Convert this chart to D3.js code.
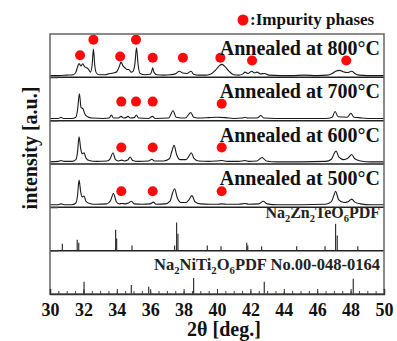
<!DOCTYPE html>
<html>
<head>
<meta charset="utf-8">
<script src="https://cdn.jsdelivr.net/npm/d3@7"></script>
<style>
  body { margin: 0; background: #fff; }
  text { font-family: "Liberation Serif", "Times New Roman", serif; font-weight: bold; }
</style>
</head>
<body>
<div id="chart"></div>
<script>
// XRD patterns, intensity in arbitrary units (0-100 per panel)
const s800 = [[30,4],[30.5,4],[31,5],[31.4,6],[31.55,12],[31.65,24],[31.74,32],[31.85,26],[31.96,31],[32.08,24],[32.2,22],[32.32,18],[32.42,12],[32.52,28],[32.6,65],[32.68,28],[32.78,10],[32.95,6],[33.3,6],[33.5,8],[33.8,10],[34.0,13],[34.15,25],[34.25,35],[34.38,26],[34.5,22],[34.6,18],[34.72,18],[34.85,12],[34.95,13],[35.08,30],[35.18,68],[35.28,28],[35.4,9],[35.7,6],[36.0,7],[36.1,15],[36.15,22],[36.22,12],[36.4,6],[36.8,5],[37.2,6],[37.5,8],[37.75,14],[37.95,10],[38.2,9],[38.45,14],[38.6,7],[38.9,5],[39.3,5],[39.6,7],[39.9,16],[40.15,27],[40.3,30],[40.5,24],[40.75,13],[41.0,6],[41.3,5],[41.55,8],[41.68,12],[41.85,9],[42.08,14],[42.25,10],[42.4,12],[42.6,8],[42.85,9],[43.1,5],[43.8,4],[44.5,4],[45.2,5],[46,4],[46.6,5],[46.9,9],[47.1,14],[47.35,16],[47.55,13],[47.8,11],[48.07,14],[48.25,9],[48.5,5],[49,4],[50,4]];
const s700 = [[30,5],[30.5,5],[30.66,8],[30.8,5],[31.3,5],[31.55,8],[31.65,25],[31.76,62],[31.86,30],[31.97,28],[32.08,16],[32.25,9],[32.5,6],[33.2,5],[33.55,6],[33.67,13],[33.8,6],[34.1,6],[34.25,10],[34.4,6],[34.55,7],[34.67,10],[34.8,6],[35.05,7],[35.17,13],[35.3,6],[35.9,5],[36.13,10],[36.3,5],[37.1,6],[37.37,23],[37.55,8],[38.1,6],[38.43,19],[38.6,8],[39.0,6],[39.5,7],[40.0,8],[40.5,7],[41.0,5],[41.5,6],[41.68,8],[41.85,6],[42.4,6],[42.63,12],[42.8,6],[43.5,5],[45,5],[46.5,5],[46.9,8],[47.07,21],[47.25,9],[47.8,8],[48.02,17],[48.2,8],[48.5,7],[49,5],[50,5]];
const s600 = [[30,5],[30.5,6],[30.66,8],[30.85,6],[31.3,6],[31.55,10],[31.65,28],[31.74,63],[31.84,35],[31.92,24],[32.04,26],[32.15,14],[32.35,8],[32.8,6],[33.4,7],[33.6,12],[33.77,26],[33.92,10],[34.1,7],[34.3,9],[34.45,7],[34.65,9],[34.8,16],[34.95,8],[35.3,6],[35.9,7],[36.1,11],[36.25,7],[36.8,7],[37.15,12],[37.3,30],[37.43,43],[37.58,22],[37.8,10],[38.15,10],[38.3,17],[38.46,26],[38.62,13],[38.9,7],[39.5,6],[40.0,7],[40.3,8],[40.6,6],[41.3,6],[41.68,8],[41.9,6],[42.4,7],[42.7,15],[42.95,7],[43.6,5],[45,5],[46.5,6],[46.85,11],[47.0,23],[47.13,30],[47.3,16],[47.6,10],[47.85,14],[48.07,22],[48.25,12],[48.6,7],[49.2,5],[50,5]];
const s500 = [[30,6],[30.5,6],[30.66,8],[30.85,6],[31.3,6],[31.55,10],[31.65,28],[31.74,63],[31.84,35],[31.92,24],[32.04,26],[32.15,14],[32.35,9],[32.8,7],[33.4,8],[33.62,15],[33.8,32],[33.97,13],[34.15,8],[34.3,9],[34.5,8],[34.7,10],[34.87,14],[35.05,8],[35.5,7],[36.0,8],[36.19,12],[36.35,7],[36.9,8],[37.2,15],[37.33,32],[37.46,43],[37.62,22],[37.85,11],[38.15,11],[38.33,18],[38.5,27],[38.68,13],[39.0,8],[39.6,7],[40.0,7],[40.3,8],[40.6,7],[41.3,7],[41.68,9],[41.9,7],[42.5,8],[42.77,14],[43.0,8],[43.6,6],[45,6],[46.5,7],[46.85,13],[47.0,28],[47.1,37],[47.28,18],[47.6,11],[47.85,13],[48.07,19],[48.25,12],[48.6,8],[49.2,6],[50,6]];

// impurity markers [2theta, height]
const dots800 = [[31.8,51],[32.6,87],[34.2,48],[35.15,87],[36.15,45],[37.96,45],[40.2,45],[42.1,39],[47.74,39]];
const dots700 = [[34.27,44],[35.15,44],[36.15,44],[40.28,39]];
const dots600 = [[34.27,38],[36.15,38],[40.28,38]];
const dots500 = [[34.27,37],[36.15,37],[40.28,37]];

// reference sticks [2theta, height]
const pdfZnTe = [[30.74,16],[31.63,25],[31.72,18],[33.93,48],[33.99,28],[34.91,12],[37.46,12],[37.58,65],[37.66,39],[39.42,12],[40.24,10],[41.78,18],[41.84,12],[42.67,10],[44.77,10],[46.47,10],[47.1,62],[47.2,35],[48.43,10]];
const pdfNiTi = [[32.04,28],[34.87,21],[35.91,17],[38.6,37],[42.83,28],[48.16,35]];

const panelLabels = ["Annealed at 800°C", "Annealed at 700°C", "Annealed at 600°C", "Annealed at 500°C"];
const xTicks = [30, 32, 34, 36, 38, 40, 42, 44, 46, 48, 50];

const W = 397, H = 341;
const mLeft = 50, mRight = 384, mTop = 34, mBottom = 294;
const nPanels = 6;

const svg = d3.select("#chart").append("svg")
  .attr("width", W).attr("height", H);

const x = d3.scaleLinear().domain([30, 50]).range([mLeft, mRight]);
const yStack = d3.scaleLinear().domain([0, nPanels]).range([mBottom, mTop]);

// panel i counted from the top (0 = 800C)
function panelY(i) {
  return d3.scaleLinear().domain([0, 100])
    .range([yStack(nPanels - 1 - i), yStack(nPanels - i)]);
}

const line = d3.line().curve(d3.curveMonotoneX);

// spectra
[s800, s700, s600, s500].forEach((s, i) => {
  const y = panelY(i);
  svg.append("path")
    .attr("d", line.x(d => x(d[0])).y(d => y(d[1]))(s))
    .attr("fill", "none")
    .attr("stroke", "#1a1a1a")
    .attr("stroke-width", 1.1)
    .attr("stroke-linejoin", "round");
});

// impurity dots
[dots800, dots700, dots600, dots500].forEach((dots, i) => {
  const y = panelY(i);
  svg.selectAll(null).data(dots).enter()
    .append("circle")
    .attr("cx", d => x(d[0]))
    .attr("cy", d => y(d[1]))
    .attr("r", 5)
    .attr("fill", "#ff0a0a");
});

// reference sticks
[pdfZnTe, pdfNiTi].forEach((sticks, k) => {
  const y = panelY(4 + k);
  svg.selectAll(null).data(sticks).enter()
    .append("line")
    .attr("x1", d => x(d[0])).attr("x2", d => x(d[0]))
    .attr("y1", y(0)).attr("y2", d => y(d[1]))
    .attr("stroke", "#333")
    .attr("stroke-width", 1.2);
});

// panel separators
svg.selectAll(null).data(d3.range(1, nPanels)).enter()
  .append("line")
  .attr("x1", mLeft).attr("x2", mRight)
  .attr("y1", d => yStack(d)).attr("y2", d => yStack(d))
  .attr("stroke", "#222")
  .attr("stroke-width", 1.5);

// frame
svg.append("rect")
  .attr("x", mLeft).attr("y", mTop)
  .attr("width", mRight - mLeft).attr("height", mBottom - mTop)
  .attr("fill", "none")
  .attr("stroke", "#666")
  .attr("stroke-width", 1.5);

// left ticks (panel boundaries)
svg.append("g")
  .attr("transform", "translate(" + mLeft + ",0)")
  .call(d3.axisLeft(yStack).tickValues(d3.range(0, nPanels)).tickSize(-8).tickFormat(""))
  .call(g => g.select(".domain").remove())
  .call(g => g.selectAll("text").remove())
  .selectAll("line").attr("stroke", "#555");

// bottom axis: minor + major ticks
svg.append("g")
  .attr("transform", "translate(0," + mBottom + ")")
  .call(d3.axisBottom(x).tickValues(d3.range(30, 50.01, 0.5)).tickSize(-3).tickFormat(""))
  .call(g => g.select(".domain").remove())
  .call(g => g.selectAll("text").remove())
  .selectAll("line").attr("stroke", "#444");

const xAxis = svg.append("g")
  .attr("transform", "translate(0," + mBottom + ")")
  .call(d3.axisBottom(x).tickValues(xTicks).tickSize(-5).tickPadding(9).tickFormat(d3.format("d")));
xAxis.select(".domain").attr("stroke", "#333").attr("stroke-width", 1.5);
xAxis.selectAll("line").attr("stroke", "#333");
xAxis.selectAll("text")
  .attr("font-family", "'Liberation Serif', serif")
  .attr("font-weight", "bold")
  .attr("font-size", 18)
  .attr("fill", "#111");

// axis titles
svg.append("text")
  .attr("x", 224).attr("y", 336)
  .attr("text-anchor", "middle")
  .attr("font-size", 20)
  .attr("fill", "#111")
  .text("2θ [deg.]");

svg.append("text")
  .attr("transform", "translate(37,148) rotate(-90)")
  .attr("text-anchor", "middle")
  .attr("font-size", 20)
  .attr("fill", "#111")
  .text("intensity [a.u.]");

// panel labels
panelLabels.forEach((t, i) => {
  svg.append("text")
    .attr("x", 380)
    .attr("y", yStack(nPanels - i) + 21)
    .attr("text-anchor", "end")
    .attr("font-size", 20)
    .attr("fill", "#111")
    .text(t);
});

// reference labels with subscripts
function chem(parts, xEnd, yBase, size) {
  const t = svg.append("text")
    .attr("x", xEnd).attr("y", yBase)
    .attr("text-anchor", "end")
    .attr("font-size", size)
    .attr("fill", "#222");
  let shift = 0;
  parts.forEach(p => {
    const sub = typeof p !== "string";
    const target = sub ? 4 : 0;
    const span = t.append("tspan")
      .attr("dy", target - shift)
      .text(sub ? p[0] : p);
    if (sub) span.attr("font-size", size * 0.65);
    shift = target;
  });
}
chem(["Na", ["2"], "Zn", ["2"], "TeO", ["6"], "PDF"], 380, yStack(2) + 11, 16);
chem(["Na", ["2"], "NiTi", ["2"], "O", ["6"], "PDF No.00-048-0164"], 380, yStack(1) + 19, 16.5);

// legend
svg.append("circle")
  .attr("cx", 243).attr("cy", 20).attr("r", 5.5)
  .attr("fill", "#ff0a0a");
svg.append("text")
  .attr("x", 250).attr("y", 25)
  .attr("font-size", 17)
  .attr("fill", "#111")
  .text(":Impurity phases");
</script>
</body>
</html>
